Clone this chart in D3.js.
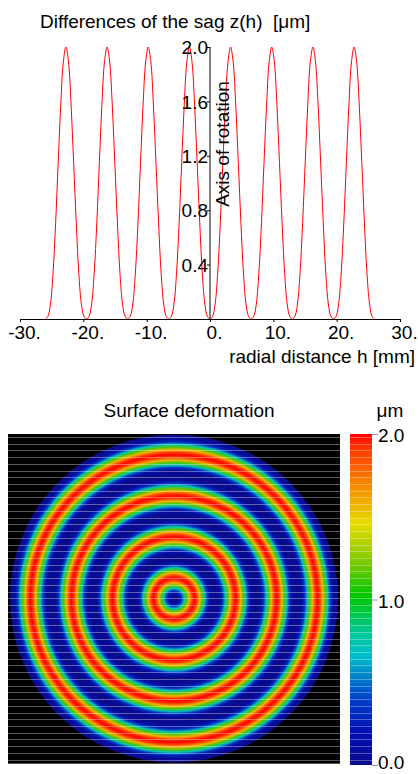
<!DOCTYPE html>
<html>
<head>
<meta charset="utf-8">
<script src="https://cdn.jsdelivr.net/npm/d3@7"></script>
<style>
  body { margin: 0; background: #fff; }
  svg { display: block; font-family: "Liberation Sans", Arial, sans-serif; }
</style>
</head>
<body>
<svg id="chart" width="418" height="774"></svg>
<script>
// zeros of the sag difference (start of each ring), mm
const ringStarts = [-26, -19.5, -13, -6.5, 0, 6.5, 13, 19.5];
// sample positions across one ring (mm from its start) and the sag read there (µm)
const ringOffsets = [0, 0.41, 0.81, 1.22, 1.63, 2.03, 2.44, 2.84, 3.25, 3.66, 4.06, 4.47, 4.88, 5.28, 5.69, 6.09, 6.5];
const ringSag = [0, 0.02, 0.11, 0.34, 0.71, 1.15, 1.58, 1.89, 2.0, 1.89, 1.58, 1.15, 0.71, 0.34, 0.11, 0.02, 0];

const lensRadius = 26;

const xTicks = [-30, -20, -10, 0, 10, 20, 30];
const yTicks = [0.4, 0.8, 1.2, 1.6, 2.0];
const barTicks = [0, 1, 2];

// colour map of the surface plot (µm -> colour)
const colorValues = [0, 0.2, 0.4, 0.56, 0.66, 0.8, 0.92, 1.02, 1.2, 1.34, 1.46, 1.6, 1.76, 1.9, 2.0];
const colorHex = ["#0a0a8c", "#0010b4", "#0040c8", "#0090c8", "#00bec8", "#00c896", "#00c846", "#00c800",
  "#6ec800", "#b4d200", "#e6dc00", "#f0aa00", "#f86e00", "#ff3c00", "#ff0000"];

const topTitle = "Differences of the sag z(h)  [\u03bcm]";
const xTitle = "radial distance h [mm]";
const yNote = "Axis of rotation";
const mapTitle = "Surface deformation";
const unit = "\u03bcm";

// build profile table
const profile = [];
ringStarts.forEach((s, i) => {
  ringOffsets.forEach((o, j) => {
    if (i > 0 && j === 0) return;
    profile.push({ h: s + o, z: ringSag[j] });
  });
});

const svg = d3.select("#chart");
const defs = svg.append("defs");
const font = 19;

// ---------- top chart ----------
const x = d3.scaleLinear().domain([-30, 30]).range([20, 400]);
const y = d3.scaleLinear().domain([0, 2]).range([319, 47]);

svg.append("text")
  .attr("x", 40).attr("y", 28)
  .attr("font-size", font)
  .style("white-space", "pre")
  .text(topTitle);

const line = d3.line()
  .x(d => x(d.h))
  .y(d => y(d.z))
  .curve(d3.curveCatmullRom);

svg.append("path")
  .datum(profile)
  .attr("fill", "none")
  .attr("stroke", "#ff0000")
  .attr("stroke-width", 1)
  .attr("d", line);

const xAxis = svg.append("g")
  .attr("transform", `translate(0,${y(0)})`)
  .call(d3.axisBottom(x).tickValues(xTicks).tickSize(3).tickSizeOuter(0).tickFormat(d => `${d}.`));
xAxis.selectAll("text")
  .attr("font-size", font).attr("fill", "#000")
  .attr("y", 20).attr("dy", 0).attr("dx", 4)
  .attr("font-family", "Liberation Sans, Arial, sans-serif");

const yAxis = svg.append("g")
  .attr("transform", `translate(${x(0)},0)`)
  .call(d3.axisLeft(y).tickValues(yTicks).tickSize(3).tickSizeOuter(0).tickFormat(d3.format(".1f")));
yAxis.select(".domain").attr("d", `M0,${y(2)}V${y(0)}`);
yAxis.selectAll("text")
  .attr("font-size", font).attr("fill", "#000")
  .attr("x", -2).attr("dy", "0.35em")
  .attr("font-family", "Liberation Sans, Arial, sans-serif");

svg.append("text")
  .attr("transform", "translate(229,144) rotate(-90)")
  .attr("text-anchor", "middle")
  .attr("font-size", font)
  .text(yNote);

svg.append("text")
  .attr("x", 415).attr("y", 363)
  .attr("text-anchor", "end")
  .attr("font-size", font)
  .text(xTitle);

// ---------- surface map ----------
const hx = d3.scaleLinear().domain([-26.3, 26.3]).range([8, 340]);
const hy = d3.scaleLinear().domain([26.06, -26.06]).range([434, 763]);
const color = d3.scaleLinear().domain(colorValues).range(colorHex).interpolate(d3.interpolateRgb);

svg.append("text")
  .attr("x", 189).attr("y", 417)
  .attr("text-anchor", "middle")
  .attr("font-size", font)
  .text(mapTitle);

svg.append("text")
  .attr("x", 390).attr("y", 417)
  .attr("text-anchor", "middle")
  .attr("font-size", font)
  .text(unit);

svg.append("rect")
  .attr("x", hx(-26.3)).attr("y", hy(26.06))
  .attr("width", hx(26.3) - hx(-26.3))
  .attr("height", hy(-26.06) - hy(26.06))
  .attr("fill", "#000");

const rPx = hx(lensRadius) - hx(0);
const radial = defs.append("radialGradient")
  .attr("id", "surf")
  .attr("gradientUnits", "userSpaceOnUse")
  .attr("cx", hx(0)).attr("cy", hy(0)).attr("r", rPx);
radial.selectAll("stop")
  .data(profile.filter(d => d.h >= 0))
  .join("stop")
  .attr("offset", d => d.h / lensRadius)
  .attr("stop-color", d => color(d.z));

svg.append("circle")
  .attr("cx", hx(0)).attr("cy", hy(0)).attr("r", rPx)
  .attr("fill", "url(#surf)");

// colour bar
const cb = d3.scaleLinear().domain([0, 2]).range([765, 434]);
const lin = defs.append("linearGradient")
  .attr("id", "bar")
  .attr("x1", 0).attr("y1", 1).attr("x2", 0).attr("y2", 0);
lin.selectAll("stop")
  .data(colorValues)
  .join("stop")
  .attr("offset", d => d / 2)
  .attr("stop-color", d => color(d));

svg.append("rect")
  .attr("x", 350).attr("y", cb(2))
  .attr("width", 22).attr("height", cb(0) - cb(2))
  .attr("fill", "url(#bar)");

const cbAxis = svg.append("g")
  .attr("transform", "translate(372,0)")
  .call(d3.axisRight(cb).tickValues(barTicks).tickSize(6).tickSizeOuter(0).tickFormat(d3.format(".1f")));
cbAxis.select(".domain").remove();
cbAxis.selectAll("line").attr("stroke", "#8c9cc0");
cbAxis.selectAll("text")
  .attr("font-size", font).attr("fill", "#000")
  .attr("x", 6).attr("dy", d => d === 0 ? "0.2em" : "0.4em")
  .attr("font-family", "Liberation Sans, Arial, sans-serif");

// faint row seams of the rendered map
const seams = d3.range(49).map(k => 437.5 + k * 6.72);
svg.append("g")
  .selectAll("line")
  .data(seams)
  .join("line")
  .attr("x1", 8).attr("x2", 340)
  .attr("y1", d => d).attr("y2", d => d)
  .attr("stroke", "#fff").attr("stroke-opacity", 0.35)
  .attr("shape-rendering", "crispEdges");
svg.append("g")
  .selectAll("line")
  .data(seams)
  .join("line")
  .attr("x1", 350).attr("x2", 372)
  .attr("y1", d => d).attr("y2", d => d)
  .attr("stroke", "#fff").attr("stroke-opacity", 0.3)
  .attr("shape-rendering", "crispEdges");

svg.append("line")
  .attr("x1", 8).attr("x2", 340)
  .attr("y1", 763.5).attr("y2", 763.5)
  .attr("stroke", "#555");
</script>
</body>
</html>
